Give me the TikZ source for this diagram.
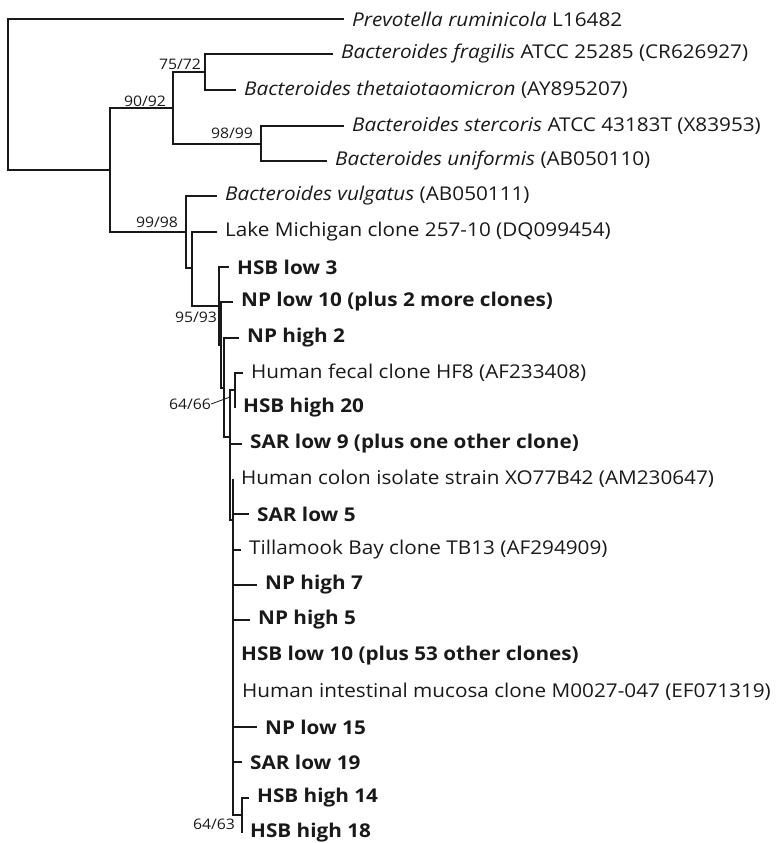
\documentclass[tikz,border=0pt]{standalone}
\usepackage{fontspec}
\setmainfont{Open Sans}[FakeStretch=1.09]
\usetikzlibrary{positioning}

\tikzset{
  branch/.style={line width=1.1pt, draw=black!90},
  leaf/.style={anchor=west, inner xsep=8pt, inner ysep=0pt, text=black!90,
    font=\fontsize{19}{22}\selectfont},
  clone/.style={leaf, font=\fontsize{19}{22}\selectfont\bfseries},
  boot/.style={inner sep=0pt, text=black!90, font=\fontsize{14.5}{16}\selectfont}
}

\begin{document}
\begin{tikzpicture}[x=1pt, y=-1pt]
    \useasboundingbox (0,0) rectangle (777,843);

        % leaves
        \node[leaf] (prevotella) at (344,19) {\textit{Prevotella ruminicola} L16482};
        \node[leaf] (fragilis) at (333,54) {\textit{Bacteroides fragilis} ATCC 25285 (CR626927)};
        \node[leaf] (theta) at (236,90) {\textit{Bacteroides thetaiotaomicron} (AY895207)};
        \node[leaf] (stercoris) at (344,126) {\textit{Bacteroides stercoris} ATCC 43183T (X83953)};
        \node[leaf] (uniformis) at (327,161) {\textit{Bacteroides uniformis} (AB050110)};
        \node[leaf] (vulgatus) at (217,196) {\textit{Bacteroides vulgatus} (AB050111)};
        \node[leaf] (lakemich) at (217,232) {Lake Michigan clone 257-10 (DQ099454)};
        \node[clone] (hsblow3) at (229,267) {HSB low 3};
        \node[clone] (nplow10) at (233,302) {NP low 10 (plus 2 more clones)};
        \node[clone] (nphigh2) at (239,338) {NP high 2};
        \node[leaf] (hf8) at (243,373) {Human fecal clone HF8 (AF233408)};
        \node[clone] (hsbhigh20) at (235,408) {HSB high 20};
        \node[clone] (sarlow9) at (242,444) {SAR low 9 (plus one other clone)};
        \node[leaf] (colon) at (233,479) {Human colon isolate strain XO77B42 (AM230647)};
        \node[clone] (sarlow5) at (249,514) {SAR low 5};
        \node[leaf] (tillamook) at (241,550) {Tillamook Bay clone TB13 (AF294909)};
        \node[clone] (nphigh7) at (257,585) {NP high 7};
        \node[clone] (nphigh5) at (250,620) {NP high 5};
        \node[clone] (hsblow10) at (233,656) {HSB low 10 (plus 53 other clones)};
        \node[leaf] (mucosa) at (234,692) {Human intestinal mucosa clone M0027-047 (EF071319)};
        \node[clone] (nplow15) at (257,727) {NP low 15};
        \node[clone] (sarlow19) at (242,762) {SAR low 19};
        \node[clone] (hsbhigh14) at (249,798) {HSB high 14};
        \node[clone] (hsbhigh18) at (242,833) {HSB high 18};

        % internal nodes
        \coordinate (root) at (8,95);
        \coordinate (bact) at (110,170);
        \coordinate (fragclade) at (173,108);
        \coordinate (fragpair) at (205,72);
        \coordinate (sterpair) at (261,144);
        \coordinate (vulgclade) at (186,232);
        \coordinate (lakeclade) at (192,268);
        \coordinate (hsbclade) at (219,306);
        \coordinate (npclade) at (221,345);
        \coordinate (nphclade) at (224,388);
        \coordinate (sarclade) at (230,437);
        \coordinate (fecalpair) at (235,390);
        \coordinate (bigclade) at (233,520);
        \coordinate (hsbpair) at (242,815);
        \coordinate (leader) at (230,397);

        % outgroup and bacteroides
        \draw[branch] (root) |- (prevotella.west);
        \draw[branch] (root) |- (bact);
        \draw[branch] (bact) |- (fragclade);
        \draw[branch] (bact) |- (vulgclade);
        \draw[branch] (fragclade) |- (fragpair);
        \draw[branch] (fragclade) |- (sterpair);
        \draw[branch] (fragpair) |- (fragilis.west);
        \draw[branch] (fragpair) |- (theta.west);
        \draw[branch] (sterpair) |- (stercoris.west);
        \draw[branch] (sterpair) |- (uniformis.west);

        % vulgatus clade
        \draw[branch] (vulgclade) |- (vulgatus.west);
        \draw[branch] (vulgclade) |- (lakeclade);
        \draw[branch] (lakeclade) |- (lakemich.west);
        \draw[branch] (lakeclade) |- (hsbclade);
        \draw[branch] (hsbclade) |- (hsblow3.west);
        \draw[branch] (hsbclade) |- (npclade);
        \draw[branch] (npclade) |- (nplow10.west);
        \draw[branch] (npclade) |- (nphclade);
        \draw[branch] (nphclade) |- (nphigh2.west);
        \draw[branch] (nphclade) |- (sarclade);
        \draw[branch] (sarclade) |- (fecalpair);
        \draw[branch] (sarclade) |- (sarlow9.west);
        \draw[branch] (sarclade) |- (bigclade);
        \draw[branch] (fecalpair) |- (hf8.west);
        \draw[branch] (fecalpair) |- (hsbhigh20.west);

        % big clade
        \draw[branch] (bigclade) |- (colon.west);
        \draw[branch] (bigclade) |- (sarlow5.west);
        \draw[branch] (bigclade) |- (tillamook.west);
        \draw[branch] (bigclade) |- (nphigh7.west);
        \draw[branch] (bigclade) |- (nphigh5.west);
        \draw[branch] (bigclade) |- (hsblow10.west);
        \draw[branch] (bigclade) |- (mucosa.west);
        \draw[branch] (bigclade) |- (nplow15.west);
        \draw[branch] (bigclade) |- (sarlow19.west);
        \draw[branch] (bigclade) |- (hsbpair);
        \draw[branch] (hsbpair) |- (hsbhigh14.west);
        \draw[branch] (hsbpair) |- (hsbhigh18.west);

        % bootstrap values
        \node[boot] (b7572) at (180,64) {75/72};
        \node[boot] (b9092) at (145,101) {90/92};
        \node[boot] (b9899) at (232,133) {98/99};
        \node[boot] (b9998) at (157,222) {99/98};
        \node[boot] (b9593) at (196,317) {95/93};
        \node[boot] (b6466) at (190,404) {64/66};
        \node[boot] (b6463) at (214,824) {64/63};
        \draw[branch, line width=0.8pt] (b6466.east) -- (leader);

    \end{tikzpicture}
\end{document}
